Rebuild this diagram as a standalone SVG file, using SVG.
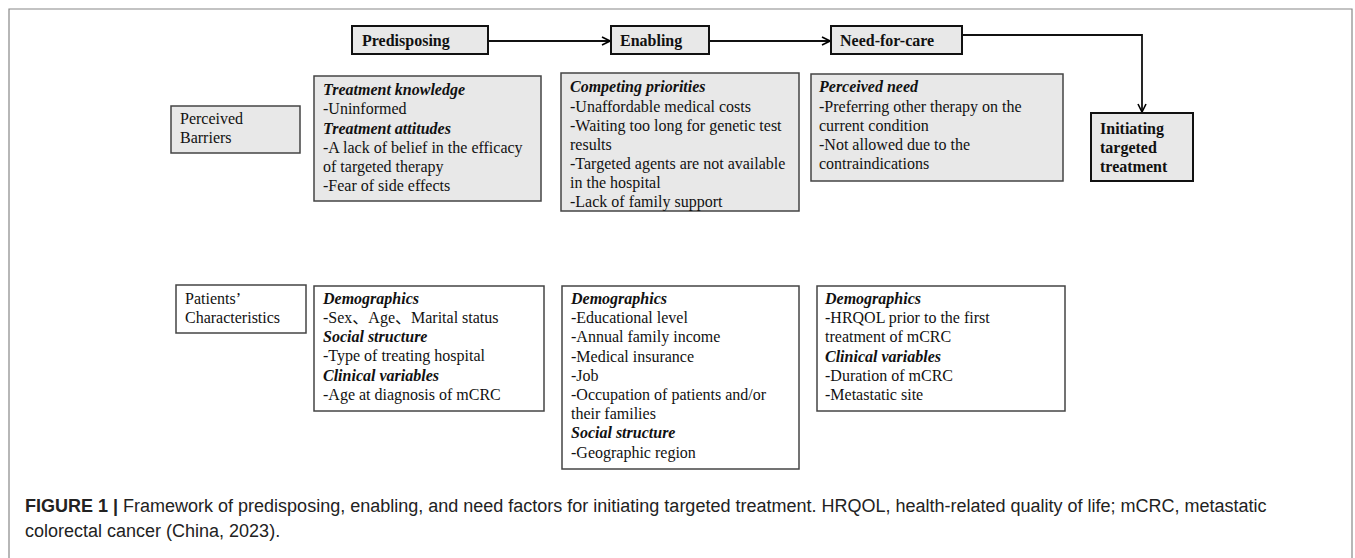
<svg xmlns="http://www.w3.org/2000/svg" width="1355" height="558" viewBox="0 0 1355 558">
<defs>
<marker id="arr" viewBox="0 0 10 10" refX="9" refY="5" markerWidth="10" markerHeight="10" markerUnits="userSpaceOnUse" orient="auto">
<path d="M1,1 L9,5 L1,9" fill="none" stroke="#000" stroke-width="1.6"/>
</marker>
<style>
text{font-family:"Liberation Serif","Noto Sans CJK SC",serif;font-size:16px;fill:#111}
.h{font-weight:bold}
.bi{font-weight:bold;font-style:italic}
.hdr{fill:#e8e8e8;stroke:#111;stroke-width:2}
.gbox{fill:#e8e8e8;stroke:#444;stroke-width:1.5}
.wbox{fill:#fff;stroke:#444;stroke-width:1.5}
.conn{fill:none;stroke:#111;stroke-width:1.8}
.cap{font-family:"Liberation Sans",Arial,sans-serif;font-size:18px;fill:#222}
</style>
</defs>
<rect width="1355" height="558" fill="#fff"/>
<path d="M9,558 V9 H1352 V558" fill="none" stroke="#888" stroke-width="1.2"/>

<g id="connectors">
<line class="conn" x1="488" y1="41" x2="610" y2="41" marker-end="url(#arr)"/>
<line class="conn" x1="709" y1="41" x2="830" y2="41" marker-end="url(#arr)"/>
<polyline class="conn" points="962,35 1142,35 1142,112" marker-end="url(#arr)"/>
</g>

<g id="predisposing">
<rect class="hdr" x="352" y="26" width="136" height="28"/>
<text class="h" x="362" y="46">Predisposing</text>
</g>
<g id="enabling">
<rect class="hdr" x="611" y="26" width="98" height="28"/>
<text class="h" x="620" y="46">Enabling</text>
</g>
<g id="need-for-care">
<rect class="hdr" x="831" y="26" width="131" height="28"/>
<text class="h" x="840" y="46">Need-for-care</text>
</g>
<g id="initiating">
<rect class="hdr" x="1091" y="113" width="102" height="68"/>
<text class="h" x="1100" y="134">Initiating</text>
<text class="h" x="1100" y="153">targeted</text>
<text class="h" x="1100" y="172">treatment</text>
</g>

<g id="perceived-barriers">
<rect class="gbox" x="171" y="106" width="129" height="47"/>
<text x="180" y="124">Perceived</text>
<text x="180" y="143">Barriers</text>
</g>
<g id="barriers-predisposing">
<rect class="gbox" x="314" y="76" width="227" height="125"/>
<text class="bi" x="323" y="95">Treatment knowledge</text>
<text x="323" y="114">-Uninformed</text>
<text class="bi" x="323" y="134">Treatment attitudes</text>
<text x="323" y="153">-A lack of belief in the efficacy</text>
<text x="323" y="172">of targeted therapy</text>
<text x="323" y="191">-Fear of side effects</text>
</g>
<g id="barriers-enabling">
<rect class="gbox" x="561" y="73" width="238" height="138"/>
<text class="bi" x="570" y="92">Competing priorities</text>
<text x="570" y="112">-Unaffordable medical costs</text>
<text x="570" y="131">-Waiting too long for genetic test</text>
<text x="570" y="150">results</text>
<text x="570" y="169">-Targeted agents are not available</text>
<text x="570" y="188">in the hospital</text>
<text x="570" y="207">-Lack of family support</text>
</g>
<g id="barriers-need">
<rect class="gbox" x="811" y="74" width="252" height="107"/>
<text class="bi" x="819" y="92">Perceived need</text>
<text x="819" y="112">-Preferring other therapy on the</text>
<text x="819" y="131">current condition</text>
<text x="819" y="150">-Not allowed due to the</text>
<text x="819" y="169">contraindications</text>
</g>

<g id="patients-characteristics">
<rect class="wbox" x="176" y="285" width="130" height="48"/>
<text x="185" y="304">Patients’</text>
<text x="185" y="323">Characteristics</text>
</g>
<g id="char-predisposing">
<rect class="wbox" x="314" y="286" width="230" height="125"/>
<text class="bi" x="323" y="304">Demographics</text>
<text x="323" y="323">-Sex、Age、Marital status</text>
<text class="bi" x="323" y="342">Social structure</text>
<text x="323" y="361">-Type of treating hospital</text>
<text class="bi" x="323" y="381">Clinical variables</text>
<text x="323" y="400">-Age at diagnosis of mCRC</text>
</g>
<g id="char-enabling">
<rect class="wbox" x="562" y="286" width="237" height="183"/>
<text class="bi" x="571" y="304">Demographics</text>
<text x="571" y="323">-Educational level</text>
<text x="571" y="342">-Annual family income</text>
<text x="571" y="362">-Medical insurance</text>
<text x="571" y="381">-Job</text>
<text x="571" y="400">-Occupation of patients and/or</text>
<text x="571" y="419">their families</text>
<text class="bi" x="571" y="438">Social structure</text>
<text x="571" y="458">-Geographic region</text>
</g>
<g id="char-need">
<rect class="wbox" x="817" y="286" width="248" height="125"/>
<text class="bi" x="825" y="304">Demographics</text>
<text x="825" y="323">-HRQOL prior to the first</text>
<text x="825" y="342">treatment of mCRC</text>
<text class="bi" x="825" y="362">Clinical variables</text>
<text x="825" y="381">-Duration of mCRC</text>
<text x="825" y="400">-Metastatic site</text>
</g>

<g id="caption">
<text class="cap" x="25" y="512"><tspan font-weight="bold">FIGURE 1 | </tspan>Framework of predisposing, enabling, and need factors for initiating targeted treatment. HRQOL, health-related quality of life; mCRC, metastatic</text>
<text class="cap" x="25" y="537">colorectal cancer (China, 2023).</text>
</g>
</svg>
